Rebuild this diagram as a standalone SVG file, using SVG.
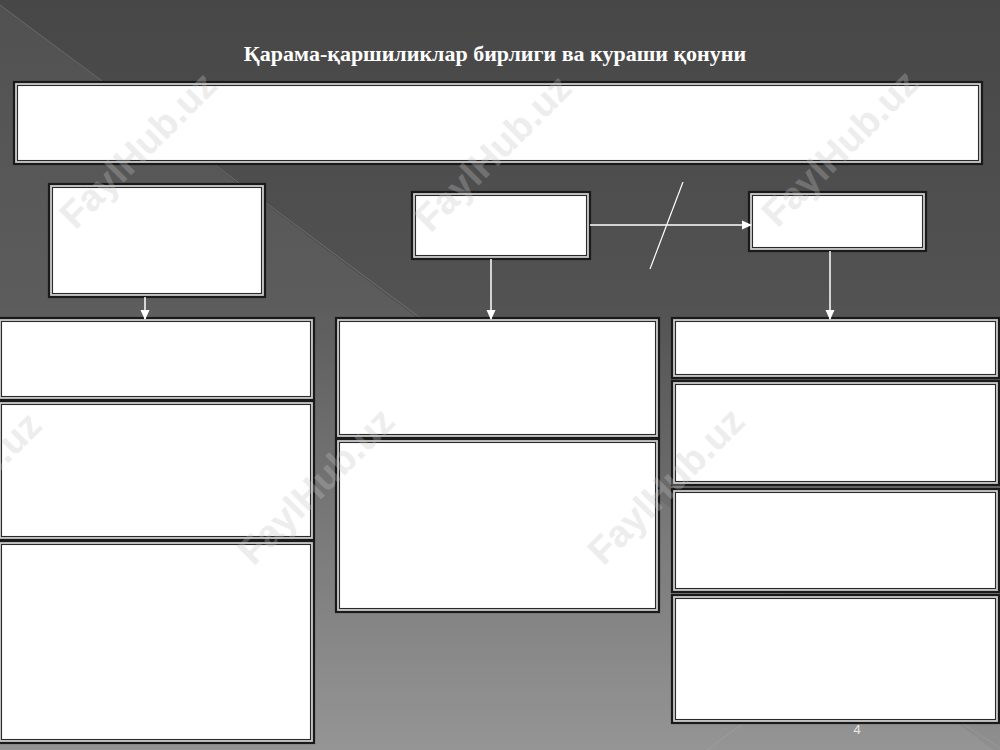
<svg xmlns="http://www.w3.org/2000/svg" width="1000" height="750" viewBox="0 0 1000 750">
<defs>
<linearGradient id="bg" x1="0" y1="0" x2="0" y2="1">
<stop offset="0" stop-color="#474747"/>
<stop offset="0.4" stop-color="#525252"/>
<stop offset="1" stop-color="#8f8f8f"/>
</linearGradient>
<marker id="ah" markerWidth="10" markerHeight="10" refX="9" refY="5" orient="auto" markerUnits="userSpaceOnUse">
<path d="M0,0.5 L10,5 L0,9.5 Z" fill="#ffffff"/>
</marker>
<style>
.ob{fill:#c8c8c8;stroke:#1a1a1a;stroke-width:2.2}
.ib{fill:#ffffff;stroke:#2a2a2a;stroke-width:1.1}
.cn{stroke:#ffffff;stroke-width:1.5;fill:none;marker-end:url(#ah)}
.wm{font-family:"Liberation Sans",Arial,sans-serif;font-weight:bold;font-size:38px;fill:#c4c4c4;opacity:0.3}
.title{font-family:"Liberation Serif","Times New Roman",serif;font-weight:bold;font-size:22px;fill:#ffffff}
</style>
</defs>
<rect x="0" y="0" width="1000" height="750" fill="url(#bg)"/>
<polygon points="0,5 1000,755 0,750" fill="#ffffff" opacity="0.06"/>
<line x1="0" y1="5" x2="430" y2="325" stroke="#8a8a8a" stroke-width="0.8" opacity="0.6"/>
<line x1="707" y1="750" x2="745" y2="722" stroke="#a8a8a8" stroke-width="0.8" opacity="0.6"/>
<line x1="960" y1="722" x2="1000" y2="748" stroke="#a8a8a8" stroke-width="0.8" opacity="0.5"/>

<text class="title" x="495" y="61" text-anchor="middle">Қарама-қаршиликлар бирлиги ва кураши қонуни</text>

<g id="top-box"><rect class="ob" x="14" y="82" width="968" height="82"/><rect class="ib" x="17.5" y="85.5" width="961" height="75"/></g>
<g id="left-head"><rect class="ob" x="49" y="184" width="216" height="113"/><rect class="ib" x="52.5" y="187.5" width="209" height="106"/></g>
<g id="mid-head"><rect class="ob" x="412" y="192" width="178" height="67"/><rect class="ib" x="415.5" y="195.5" width="171" height="60"/></g>
<g id="right-head"><rect class="ob" x="749" y="192" width="177" height="59"/><rect class="ib" x="752.5" y="195.5" width="170" height="52"/></g>

<g id="left-1"><rect class="ob" x="-2" y="318" width="316" height="82"/><rect class="ib" x="1.5" y="321.5" width="309" height="75"/></g>
<g id="left-2"><rect class="ob" x="-2" y="401" width="316" height="139"/><rect class="ib" x="1.5" y="404.5" width="309" height="132"/></g>
<g id="left-3"><rect class="ob" x="-2" y="541" width="316" height="202"/><rect class="ib" x="1.5" y="544.5" width="309" height="195"/></g>

<g id="mid-1"><rect class="ob" x="336" y="318" width="323" height="120"/><rect class="ib" x="339.5" y="321.5" width="316" height="113"/></g>
<g id="mid-2"><rect class="ob" x="336" y="439" width="323" height="173"/><rect class="ib" x="339.5" y="442.5" width="316" height="166"/></g>

<g id="right-1"><rect class="ob" x="672" y="318" width="327" height="60"/><rect class="ib" x="675.5" y="321.5" width="320" height="53"/></g>
<g id="right-2"><rect class="ob" x="672" y="381" width="327" height="104"/><rect class="ib" x="675.5" y="384.5" width="320" height="97"/></g>
<g id="right-3"><rect class="ob" x="672" y="489" width="327" height="103"/><rect class="ib" x="675.5" y="492.5" width="320" height="96"/></g>
<g id="right-4"><rect class="ob" x="672" y="595" width="327" height="128"/><rect class="ib" x="675.5" y="598.5" width="320" height="121"/></g>

<g id="connectors">
<line class="cn" x1="145" y1="297" x2="145" y2="319"/>
<line class="cn" x1="491" y1="259" x2="491" y2="319"/>
<line class="cn" x1="830" y1="251" x2="830" y2="319"/>
<line class="cn" x1="590" y1="225" x2="751" y2="225"/>
<line x1="683" y1="182" x2="650" y2="269" stroke="#ffffff" stroke-width="1.2"/>
</g>

<text x="857" y="734" font-family="Liberation Sans, Arial, sans-serif" font-size="13" fill="#e8e8e8" text-anchor="middle">4</text>

<g id="watermarks">
<text class="wm" transform="translate(140,152) rotate(-45)" text-anchor="middle" dominant-baseline="middle">FaylHub.uz</text>
<text class="wm" transform="translate(495,155) rotate(-45)" text-anchor="middle" dominant-baseline="middle">FaylHub.uz</text>
<text class="wm" transform="translate(842,150) rotate(-45)" text-anchor="middle" dominant-baseline="middle">FaylHub.uz</text>
<text class="wm" transform="translate(-35,492) rotate(-45)" text-anchor="middle" dominant-baseline="middle">FaylHub.uz</text>
<text class="wm" transform="translate(318,488) rotate(-45)" text-anchor="middle" dominant-baseline="middle">FaylHub.uz</text>
<text class="wm" transform="translate(668,488) rotate(-45)" text-anchor="middle" dominant-baseline="middle">FaylHub.uz</text>
</g>
</svg>
